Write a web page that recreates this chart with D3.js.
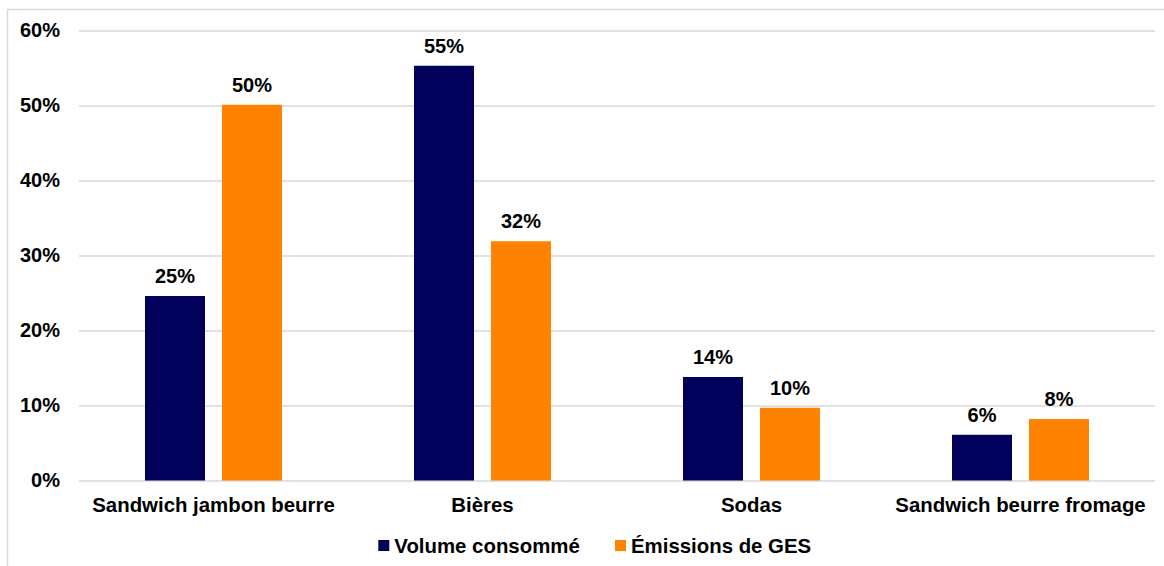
<!DOCTYPE html>
<html>
<head>
<meta charset="utf-8">
<script src="https://cdn.jsdelivr.net/npm/d3@7"></script>
<style>
  body { margin: 0; background: #fff; }
  svg { display: block; font-family: "Liberation Sans", Arial, sans-serif; font-weight: bold; }
  .tick line { stroke: #d9d9d9; stroke-width: 1.5; }
</style>
</head>
<body>
<svg></svg>
<script>
const categories = ['Sandwich jambon beurre', 'Bières', 'Sodas', 'Sandwich beurre fromage'];
const seriesNames = ['Volume consommé', 'Émissions de GES'];
const volume = [0.246, 0.553, 0.138, 0.061];
const emissions = [0.501, 0.319, 0.097, 0.082];
const yTicks = [0, 0.1, 0.2, 0.3, 0.4, 0.5, 0.6];
const colors = ['#01005a', '#ff8200'];

const width = 1164;
const height = 566;
const margin = { top: 30.5, right: 9, bottom: 85.5, left: 79 };

const svg = d3.select('svg')
  .attr('width', width)
  .attr('height', height);

// light frame, only top and left edges are visible
svg.append('rect')
  .attr('x', 7.5)
  .attr('y', 9.5)
  .attr('width', width)
  .attr('height', height - 1.5 - 9.5 + 10)
  .attr('fill', 'none')
  .attr('stroke', '#d9d9d9')
  .attr('stroke-width', 1.5);

const innerW = width - margin.left - margin.right;
const innerH = height - margin.top - margin.bottom;

const x0 = d3.scaleBand()
  .domain(categories)
  .range([margin.left, margin.left + innerW]);

const groupW = 137;
const x1 = d3.scaleBand()
  .domain(seriesNames)
  .range([(x0.bandwidth() - groupW) / 2, (x0.bandwidth() + groupW) / 2])
  .paddingInner(17 / 77);

const y = d3.scaleLinear()
  .domain([0, 0.6])
  .range([margin.top + innerH, margin.top]);

const pct = d3.format('.0%');

svg.append('g')
  .attr('transform', `translate(${margin.left},0)`)
  .call(d3.axisLeft(y)
    .tickValues(yTicks)
    .tickFormat(pct)
    .tickSizeInner(-innerW)
    .tickSizeOuter(0)
    .tickPadding(19))
  .call(g => g.select('.domain').remove())
  .call(g => g.selectAll('text')
    .attr('fill', '#000')
    .style('font-size', '20px')
    .style('font-family', '"Liberation Sans", Arial, sans-serif')
    .style('font-weight', 'bold'));

const rows = categories.map((c, i) => ({ cat: c, values: [volume[i], emissions[i]] }));

const groups = svg.append('g')
  .selectAll('g')
  .data(rows)
  .enter()
  .append('g')
  .attr('transform', d => `translate(${x0(d.cat)},0)`);

groups.selectAll('rect')
  .data(d => d.values.map((v, j) => ({ name: seriesNames[j], value: v, color: colors[j] })))
  .enter()
  .append('rect')
  .attr('x', d => x1(d.name))
  .attr('y', d => y(d.value))
  .attr('width', x1.bandwidth())
  .attr('height', d => y(0) - y(d.value))
  .attr('fill', d => d.color);

groups.selectAll('text')
  .data(d => d.values.map((v, j) => ({ name: seriesNames[j], value: v })))
  .enter()
  .append('text')
  .attr('x', d => x1(d.name) + x1.bandwidth() / 2)
  .attr('y', d => y(d.value) - 13)
  .attr('text-anchor', 'middle')
  .style('font-size', '20px')
  .text(d => pct(Math.round(d.value * 100) / 100));

svg.append('g')
  .attr('transform', `translate(0,${y(0)})`)
  .call(d3.axisBottom(x0).tickSize(0).tickPadding(0))
  .call(g => g.select('.domain').remove())
  .call(g => g.selectAll('text')
    .attr('y', 0)
    .attr('dy', 31.5)
    .attr('fill', '#000')
    .style('font-size', '20.4px')
    .style('font-family', '"Liberation Sans", Arial, sans-serif')
    .style('font-weight', 'bold'));

// legend
const legendX = [378.3, 615];
const legend = svg.append('g')
  .selectAll('g')
  .data(seriesNames)
  .enter()
  .append('g')
  .attr('transform', (d, i) => `translate(${legendX[i]},540)`);

legend.append('rect')
  .attr('width', 11)
  .attr('height', 11)
  .attr('fill', (d, i) => colors[i]);

legend.append('text')
  .attr('x', 16)
  .attr('y', 12.7)
  .style('font-size', '20.4px')
  .text(d => d);
</script>
</body>
</html>
